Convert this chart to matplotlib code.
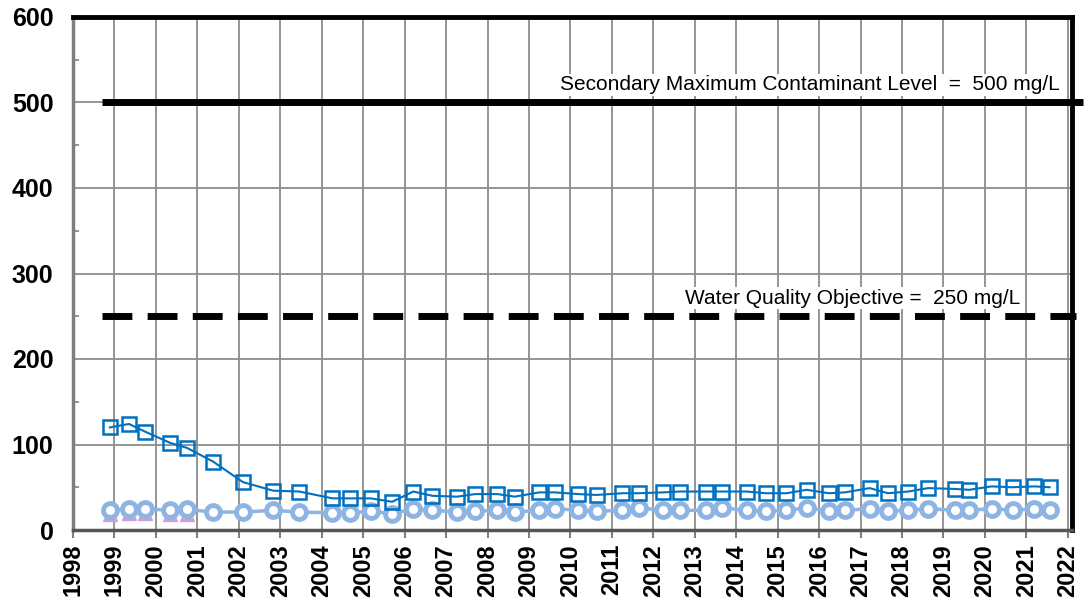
import matplotlib.pyplot as plt

plt.rcParams['font.family'] = ['Liberation Sans', 'DejaVu Sans']

# sample dates (decimal years) and concentrations, mg/L
square_years = [1998.89, 1999.35, 1999.74, 2000.34, 2000.75, 2001.38, 2002.10, 2002.83,
                2003.46, 2004.26, 2004.68, 2005.18, 2005.70, 2006.21, 2006.67, 2007.27,
                2007.70, 2008.24, 2008.66, 2009.25, 2009.63, 2010.19, 2010.63, 2011.25,
                2011.65, 2012.24, 2012.64, 2013.26, 2013.65, 2014.25, 2014.71, 2015.21,
                2015.70, 2016.24, 2016.62, 2017.22, 2017.66, 2018.15, 2018.63, 2019.27,
                2019.62, 2020.16, 2020.67, 2021.19, 2021.56]
square_values = [120, 124, 115, 102, 96, 80, 56, 46,
                 45, 37, 37, 37, 33, 45, 40, 39,
                 42, 42, 39, 44, 44, 42, 41, 43,
                 43, 44, 45, 45, 45, 45, 43, 43,
                 47, 43, 44, 49, 43, 45, 49, 48,
                 47, 51, 50, 51, 50]

circle_years = square_years
circle_values = [23, 25, 25, 23, 24, 21, 21, 23,
                 21, 20, 20, 22, 19, 25, 23, 21,
                 22, 23, 21, 23, 25, 23, 22, 23,
                 26, 23, 23, 23, 26, 23, 22, 23,
                 26, 22, 23, 25, 22, 23, 25, 23,
                 23, 25, 23, 25, 23]

triangle_years = [1998.89, 1999.35, 1999.74, 2000.34, 2000.75]
triangle_values = [19, 20, 20, 19, 19]

smcl = 500
wqo = 250
year_ticks = list(range(1998, 2023))

fig = plt.figure(figsize=(10.87, 6.08), dpi=100)
ax = fig.add_axes([73 / 1087, 1 - 530 / 608, (1072 - 73) / 1087, (530 - 17) / 608])

ax.plot(triangle_years, triangle_values, linestyle='none', marker='^', markersize=10,
        color='#C8A2D6', zorder=3)
ax.plot(circle_years, circle_values, color='#8DB4E2', linewidth=2.5, marker='o',
        markersize=10, markerfacecolor='white', markeredgewidth=3.5, zorder=4)
ax.plot(square_years, square_values, color='#0070C0', linewidth=1.5, marker='s',
        markersize=10.5, markerfacecolor='none', markeredgewidth=1.8, zorder=5)

# regulatory limits
ax.plot([1998.7, 2022.36], [smcl, smcl], color='black', linewidth=5, clip_on=False,
        solid_capstyle='butt', zorder=6)
ax.plot([1998.7, 2022.2], [wqo, wqo], color='black', linewidth=5, dashes=(4.3, 2.2),
        solid_capstyle='butt', dash_capstyle='butt', clip_on=False, zorder=6)

box = dict(facecolor='white', edgecolor='none', pad=1)
ax.text(2021.8, smcl + 21, 'Secondary Maximum Contaminant Level  =  ' + f'{smcl} mg/L',
        ha='right', va='center', fontsize=15, bbox=box, zorder=7)
ax.text(2020.85, wqo + 21, 'Water Quality Objective =  ' + f'{wqo} mg/L',
        ha='right', va='center', fontsize=15, bbox=box, zorder=7)

ax.set_xlim(1998, 2022.1)
ax.set_ylim(0, 600)
ax.set_xticks(year_ticks)
ax.set_xticklabels([str(y) for y in year_ticks], rotation=90, fontsize=17, fontweight='bold')
ax.set_yticks(range(0, 601, 100))
ax.set_yticks(range(50, 600, 100), minor=True)
ax.set_yticklabels([str(v) for v in range(0, 601, 100)], fontsize=18, fontweight='bold')
ax.tick_params(axis='x', direction='out', length=6, color='#808080', width=1.5, pad=4)
ax.tick_params(axis='y', which='major', length=0, pad=14)
ax.tick_params(axis='y', which='minor', direction='in', length=4, color='#808080', width=1.2)

ax.grid(True, which='major', color='#8C8C8C', linewidth=1.3)
ax.set_axisbelow(True)

for side in ('top', 'right'):
    ax.spines[side].set_color('black')
    ax.spines[side].set_linewidth(3.5)
ax.spines['left'].set_color('#7F7F7F')
ax.spines['left'].set_linewidth(2.5)
ax.spines['bottom'].set_color('#555555')
ax.spines['bottom'].set_linewidth(2.5)

fig.savefig('out.png', dpi=100)
